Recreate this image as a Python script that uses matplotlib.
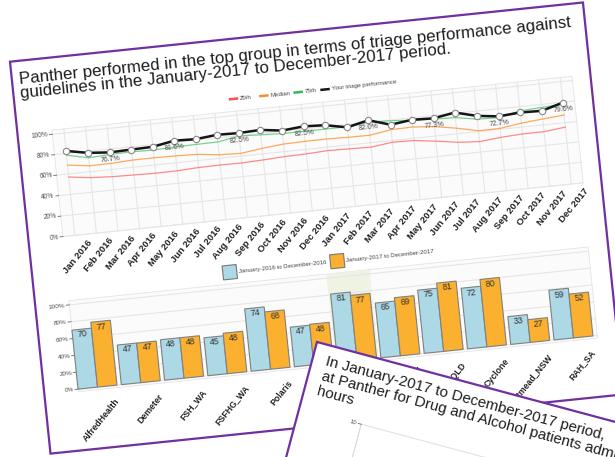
import numpy as np
import matplotlib
matplotlib.use('Agg')
import matplotlib.pyplot as plt
from matplotlib.transforms import Affine2D
from matplotlib.patches import Rectangle

plt.rcParams['font.family'] = ['Liberation Sans', 'DejaVu Sans']

# slide 1, top chart: monthly triage performance (%)
months = ['Jan 2016', 'Feb 2016', 'Mar 2016', 'Apr 2016', 'May 2016', 'Jun 2016',
          'Jul 2016', 'Aug 2016', 'Sep 2016', 'Oct 2016', 'Nov 2016', 'Dec 2016',
          'Jan 2017', 'Feb 2017', 'Mar 2017', 'Apr 2017', 'May 2017', 'Jun 2017',
          'Jul 2017', 'Aug 2017', 'Sep 2017', 'Oct 2017', 'Nov 2017', 'Dec 2017']
p25 = [57.0, 54.2, 53.0, 52.5, 52.0, 52.2, 53.2, 53.5, 53.3, 54.1, 55.2, 55.6,
       56.7, 56.2, 55.7, 58.3, 57.8, 55.0, 51.7, 50.2, 52.2, 53.3, 53.4, 55.6]
p50 = [68.6, 65.8, 65.9, 67.0, 67.1, 66.7, 66.1, 63.5, 62.7, 65.4, 67.4, 67.9,
       68.0, 67.5, 67.3, 70.6, 71.0, 69.2, 65.5, 60.8, 60.9, 63.9, 65.7, 67.5]
p75 = [78.3, 73.6, 74.7, 75.1, 74.6, 75.4, 75.8, 76.0, 79.7, 78.6, 77.7, 77.6,
       77.7, 77.8, 79.9, 79.3, 77.5, 76.5, 75.8, 72.1, 71.5, 75.9, 77.0, 78.1]
yours = [82.5, 78.4, 76.7, 77.3, 77.8, 81.6, 80.9, 83.0, 82.5, 83.4, 80.6, 82.5,
         81.5, 77.2, 82.0, 75.4, 78.0, 77.3, 80.8, 75.3, 72.7, 74.3, 73.7, 79.6]
labelled = [2, 5, 8, 11, 14, 17, 20, 23]
series_names = ['25th', 'Median', '75th', 'Your triage performance']

# slide 1, bottom chart: hospitals, two periods
hospitals = ['AlfredHealth', 'Demeter', 'FSH_WA', 'FSFHG_WA', 'Polaris', 'Monash_VIC',
             'Panther', 'Nepean_NSW', 'Mater_QLD', 'Cyclone', 'Westmead_NSW', 'RAH_SA']
score_2016 = [70, 47, 48, 45, 74, 47, 81, 65, 75, 72, 33, 59]
score_2017 = [77, 47, 48, 48, 68, 48, 77, 69, 81, 80, 27, 52]
periods = ['January-2016 to December-2016', 'January-2017 to December-2017']

title1 = ['Panther performed in the top group in terms of triage performance against',
          'guidelines in the January-2017 to December-2017 period.']
title2 = ['In January-2017 to December-2017 period,',
          'at Panther for Drug and Alcohol patients admitted',
          'hours']

PURPLE = '#7030a0'
BLUE = '#add8e6'
ORANGE = '#fbb12f'
GRID = '#e6e6e6'

fig = plt.figure(figsize=(6.15, 4.57), dpi=100)
ax = fig.add_axes([0, 0, 1, 1])
ax.set_xlim(0, 615)
ax.set_ylim(457, 0)
ax.set_autoscale_on(False)
ax.axis('off')


def slide_frame(x0, y0, deg):
    # slide pixels (u right, v down) -> picture pixels, turned by deg
    c, s = np.cos(np.radians(deg)), np.sin(np.radians(deg))
    return Affine2D(np.array([[c, s, x0], [-s, c, y0], [0, 0, 1.0]])) + ax.transData


def chart_frame(slide, u0, v0, sx, sy):
    return Affine2D().scale(sx, -sy).translate(u0, v0) + slide


def label(tr, x, y, s, rot, **kw):
    kw.setdefault('zorder', 5)
    ax.text(x, y, s, transform=tr, rotation=rot, rotation_mode='anchor', **kw)


# ---------------- slide 1
ROT1 = 5.9
s1 = slide_frame(10, 61.7, ROT1)
ax.add_patch(Rectangle((0, 0), 576, 394, transform=s1, fc='white', ec=PURPLE, lw=1.6, zorder=1))
for i, line in enumerate(title1):
    label(s1, 7, 23 + 14.5 * i, line, ROT1, ha='left', va='baseline', fontsize=12.2, color='#1e1e1e')

# line chart
lt = chart_frame(s1, 46.6, 179.4, 21.7, 1.029)
x = np.arange(len(months))
ax.add_patch(Rectangle((-0.55, 0), 24.1, 104, transform=lt, fc='#fbfbfb', ec='#e4e4e4', lw=0.6, zorder=2))
for yv in range(0, 101, 20):
    ax.plot([-0.55, 23.55], [yv, yv], transform=lt, color=GRID, lw=0.8, zorder=2)
    ax.plot([-0.68, -0.55], [yv, yv], transform=lt, color='#666666', lw=0.6, zorder=2)
    label(lt, -0.75, yv, f'{yv}%', ROT1, ha='right', va='center', fontsize=4.8, color='#4d4d4d')
for xi in x:
    ax.plot([xi, xi], [0, 104], transform=lt, color=GRID, lw=0.8, zorder=2)

cols = ['#ff4d4d', '#ff8c2a', '#33bb55', '#151515']
ax.plot(x, p25, transform=lt, color=cols[0], lw=0.9, alpha=0.65, zorder=3)
ax.plot(x, p50, transform=lt, color=cols[1], lw=0.9, alpha=0.75, zorder=3)
ax.plot(x, p75, transform=lt, color=cols[2], lw=0.9, alpha=0.65, zorder=3)
ax.plot(x, yours, transform=lt, color=cols[3], lw=1.8, marker='o', ms=4.6,
        mfc='white', mec='#888888', mew=0.8, zorder=4)
for i in labelled:
    label(lt, i, yours[i] - 6.8, f'{yours[i]:.1f}%', ROT1, ha='center', va='center',
          fontsize=5.0, color='#444444')
for i, m in enumerate(months):
    label(lt, i + 0.7, -6.9, m, ROT1 + 45, ha='right', va='center', fontsize=6.8,
          fontweight='bold', color='#222222')

leg_u = [215, 245.5, 280, 307]
for name, col, u in zip(series_names, cols, leg_u):
    ax.plot([u, u + 7], [60, 60], transform=s1, color=col, lw=1.8, zorder=5)
    label(s1, u + 10, 60, name, ROT1, ha='left', va='center', fontsize=4.4, color='#444444')

# bar chart
bt = chart_frame(s1, 53.6, 332.7, 43.5, 0.847)
g = np.arange(len(hospitals))
ax.add_patch(Rectangle((-0.45, -3), 12, 108, transform=bt, fc='#fbfbfb', ec='#e4e4e4', lw=0.6, zorder=2))
hl = hospitals.index('Panther')
ax.add_patch(Rectangle((hl - 0.5, -3), 1, 108, transform=bt, fc='#eef3e4', ec='none', zorder=2))
for yv in range(0, 101, 20):
    ax.plot([-0.45, 11.55], [yv, yv], transform=bt, color=GRID, lw=0.8, zorder=2)
    ax.plot([-0.52, -0.45], [yv, yv], transform=bt, color='#666666', lw=0.6, zorder=2)
    label(bt, -0.55, yv, f'{yv}%', ROT1, ha='right', va='center', fontsize=4.6, color='#4d4d4d')

ax.bar(g - 0.225, score_2016, width=0.45, transform=bt, color=BLUE, edgecolor='#808080', lw=0.8, zorder=3)
ax.bar(g + 0.225, score_2017, width=0.45, transform=bt, color=ORANGE, edgecolor='#808080', lw=0.8, zorder=3)
for gi in g:
    label(bt, gi - 0.225, score_2016[gi] - 1, str(score_2016[gi]), ROT1, ha='center', va='top',
          fontsize=6.4, color='#333333')
    label(bt, gi + 0.225, score_2017[gi] - 1, str(score_2017[gi]), ROT1, ha='center', va='top',
          fontsize=6.4, color='#333333')
    label(bt, gi + 0.44, -17, hospitals[gi], ROT1 + 45, ha='right', va='center', fontsize=6.3,
          fontweight='bold', color='#222222')

for name, col, u in zip(periods, [BLUE, ORANGE], [190, 298]):
    ax.add_patch(Rectangle((u, 225), 14, 14, transform=s1, fc=col, ec='#777777', lw=0.8, zorder=5))
    label(s1, u + 16, 232, name, ROT1, ha='left', va='center', fontsize=4.3, color='#444444')

# ---------------- slide 2, lying on top
ROT2 = -15
s2 = slide_frame(317, 342, ROT2)
ax.add_patch(Rectangle((0, 0), 576, 420, transform=s2, fc='white', ec=PURPLE, lw=1.6, zorder=10))
for i, line in enumerate(title2):
    label(s2, 13, 20 + 15.5 * i, line, ROT2, ha='left', va='baseline', fontsize=10.9,
          color='#1e1e1e', zorder=12)
ax.plot([64, 576], [68, 68], transform=s2, color='#e2e2e2', lw=0.8, zorder=11)
ax.plot([64, 64], [68, 420], transform=s2, color='#d6d6d6', lw=0.8, zorder=11)
ax.plot([61, 64], [68, 68], transform=s2, color='#666666', lw=0.6, zorder=11)
label(s2, 59, 68, '10', ROT2, ha='right', va='center', fontsize=4.3, color='#4d4d4d', zorder=12)

fig.savefig('out.png', dpi=100)
